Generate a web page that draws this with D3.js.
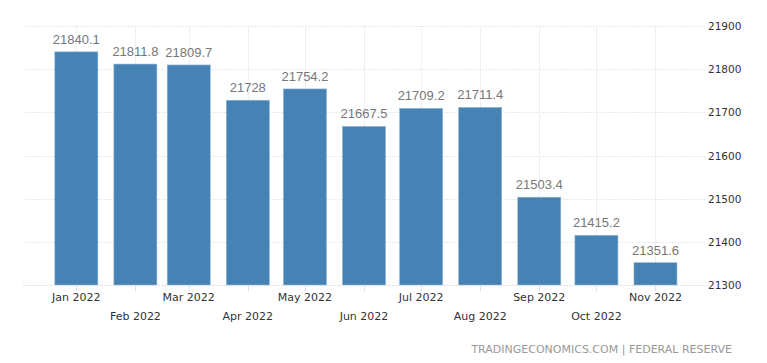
<!DOCTYPE html>
<html>
<head>
<meta charset="utf-8">
<script src="https://cdn.jsdelivr.net/npm/d3@7"></script>
<style>
  body { margin: 0; background: #fff; }
  svg { display: block; }
</style>
</head>
<body>
<div id="chart"></div>
<script>
// chart data
const months = ["2022-01", "2022-02", "2022-03", "2022-04", "2022-05", "2022-06",
                "2022-07", "2022-08", "2022-09", "2022-10", "2022-11"];
const values = [21840.1, 21811.8, 21809.7, 21728, 21754.2, 21667.5,
                21709.2, 21711.4, 21503.4, 21415.2, 21351.6];
const yTicks = [21300, 21400, 21500, 21600, 21700, 21800, 21900];
const sourceText = "TRADINGECONOMICS.COM | FEDERAL RESERVE";

const width = 767, height = 363;
const parseMonth = d3.timeParse("%Y-%m");
const data = months.map((m, i) => ({ date: parseMonth(m), value: values[i] }));

const svg = d3.select("#chart")
  .append("svg")
  .attr("width", width)
  .attr("height", height);

// time scale so the month spacing follows the calendar
const x = d3.scaleTime()
  .domain([new Date(2021, 11, 4), new Date(2022, 10, 27)])
  .range([23, 705]);

const y = d3.scaleLinear()
  .domain([21300, 21900])
  .range([285, 26]);

const barWidth = 43;

// horizontal grid
svg.append("g")
  .selectAll("line")
  .data(yTicks.slice(1))
  .join("line")
  .attr("x1", 23)
  .attr("x2", 705)
  .attr("y1", d => Math.round(y(d)) + 0.5)
  .attr("y2", d => Math.round(y(d)) + 0.5)
  .attr("stroke", "#e9e9e9")
  .attr("stroke-dasharray", "2,1");

// vertical grid at each month
svg.append("g")
  .selectAll("line")
  .data(data)
  .join("line")
  .attr("x1", d => Math.round(x(d.date)) + 0.5)
  .attr("x2", d => Math.round(x(d.date)) + 0.5)
  .attr("y1", 26)
  .attr("y2", 285)
  .attr("stroke", "#efefef");

// bars
svg.append("g")
  .selectAll("rect")
  .data(data)
  .join("rect")
  .attr("x", d => x(d.date) - barWidth / 2)
  .attr("y", d => y(d.value))
  .attr("width", barWidth)
  .attr("height", d => y(21300) - y(d.value))
  .attr("fill", "#4682b4")
  .attr("stroke", "#8fb3d3")
  .attr("stroke-width", 0.6);

// value labels
svg.append("g")
  .selectAll("text")
  .data(data)
  .join("text")
  .attr("x", d => x(d.date))
  .attr("y", d => y(d.value) - 8)
  .attr("text-anchor", "middle")
  .style("font-family", "'Liberation Sans', Arial, sans-serif")
  .style("font-size", "13px")
  .attr("fill", "#777")
  .text(d => d.value);

// baseline
svg.append("line")
  .attr("x1", 23)
  .attr("x2", 705)
  .attr("y1", 285.5)
  .attr("y2", 285.5)
  .attr("stroke", "#e0e0e0")
  .attr("stroke-dasharray", "2,1");

// x axis ticks and labels (alternating rows)
const xAxis = svg.append("g");
xAxis.selectAll("line")
  .data(data)
  .join("line")
  .attr("x1", d => Math.round(x(d.date)) + 0.5)
  .attr("x2", d => Math.round(x(d.date)) + 0.5)
  .attr("y1", 286)
  .attr("y2", 291)
  .attr("stroke", "#ddd");

xAxis.selectAll("text")
  .data(data)
  .join("text")
  .attr("x", d => x(d.date))
  .attr("y", (d, i) => i % 2 === 0 ? 301 : 320)
  .attr("text-anchor", "middle")
  .style("font-family", "'DejaVu Sans', Verdana, sans-serif")
  .style("font-size", "11px")
  .attr("fill", "#333")
  .text(d => d3.timeFormat("%b %Y")(d.date));

// y axis on the right
svg.append("g")
  .selectAll("text")
  .data(yTicks)
  .join("text")
  .attr("x", 708)
  .attr("y", d => y(d) + 4)
  .style("font-family", "'DejaVu Sans', Verdana, sans-serif")
  .style("font-size", "10.5px")
  .attr("fill", "#333")
  .text(d => d);

// source
svg.append("text")
  .attr("x", 732)
  .attr("y", 353)
  .attr("text-anchor", "end")
  .style("font-family", "'DejaVu Sans', Verdana, sans-serif")
  .style("font-size", "11px")
  .attr("fill", "#999")
  .text(sourceText);
</script>
</body>
</html>
